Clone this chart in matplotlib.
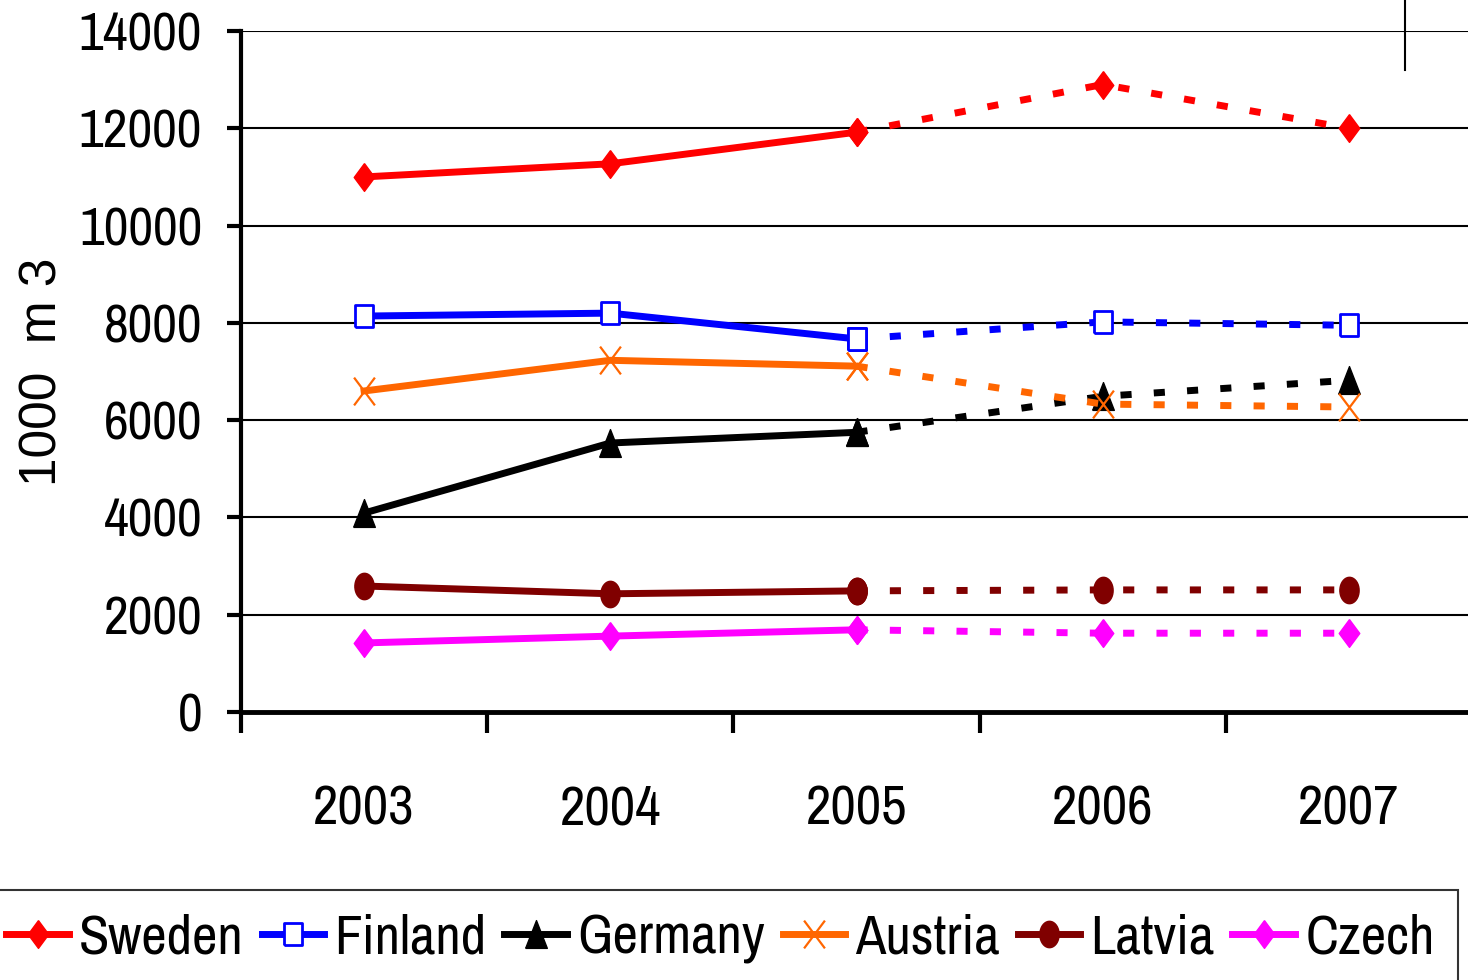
import numpy as np
import matplotlib
matplotlib.use("Agg")
import matplotlib.pyplot as plt
from matplotlib.path import Path
from matplotlib.lines import Line2D

years = ["2003", "2004", "2005", "2006", "2007"]
sweden = [11000, 11270, 11920, 12900, 12000]
finland = [8140, 8200, 7670, 8020, 7950]
germany = [4090, 5530, 5750, 6490, 6820]
austria = [6600, 7230, 7110, 6330, 6270]
latvia = [2590, 2430, 2490, 2510, 2510]
czech = [1420, 1560, 1690, 1620, 1620]

narrow = ['Archivo Narrow', 'DejaVu Sans']

# tall, narrow marker shapes like the original
diamond = [(0, 1), (0.74, 0), (0, -1), (-0.74, 0), (0, 1)]
rect = [(-0.75, -1), (0.75, -1), (0.75, 1), (-0.75, 1), (-0.75, -1)]
tri = [(-0.78, -1), (0.78, -1), (0, 1), (-0.78, -1)]
cross = Path([(-0.75, -1), (0.75, 1), (-0.75, 1), (0.75, -1)],
             [Path.MOVETO, Path.LINETO, Path.MOVETO, Path.LINETO])
t = np.linspace(0, 2 * np.pi, 40)
oval = list(zip(0.73 * np.cos(t), np.sin(t)))

series = [
    ("Sweden", sweden, "#FF0000", dict(marker=diamond, ms=20, mfc="#FF0000", mec="#FF0000", mew=1)),
    ("Finland", finland, "#0000FF", dict(marker=rect, ms=16.5, mfc="white", mec="#0000FF", mew=2)),
    ("Germany", germany, "black", dict(marker=tri, ms=20, mfc="black", mec="black", mew=1)),
    ("Austria", austria, "#FF6600", dict(marker=cross, ms=20, mfc="none", mec="#FF6600", mew=1.6)),
    ("Latvia", latvia, "#800000", dict(marker=oval, ms=19, mfc="#800000", mec="#800000", mew=1)),
    ("Czech", czech, "#FF00FF", dict(marker=diamond, ms=20, mfc="#FF00FF", mec="#FF00FF", mew=1)),
]

fig = plt.figure(figsize=(14.68, 9.8), dpi=100)
ax = fig.add_axes([241/1468, 1 - 712/980, 1231/1468, 681/980])

x = np.arange(len(years)) + 0.5
for name, vals, col, mk in series:
    ax.plot(x[2:], vals[2:], color=col, lw=5, ls=(0, (1.6, 3.2)),
            solid_capstyle="butt", dash_capstyle="butt", zorder=3, **mk)
    ax.plot(x[:3], vals[:3], color=col, lw=5, label=name, zorder=4, **mk)

ax.set_xlim(0, 5)
ax.set_ylim(0, 14000)
ax.set_yticks(np.arange(0, 14001, 2000))
ax.set_xticks(np.arange(0, 5))
ax.set_xticklabels([])
ax.set_xticks(x, minor=True)
ax.set_xticklabels(years, minor=True, family=narrow, fontsize=40)
ax.tick_params(axis="x", which="minor", length=0, pad=52)
ax.tick_params(axis="x", which="major", length=15, width=3, direction="out")
ax.tick_params(axis="y", length=10, width=3, direction="out", pad=18)
for lab in ax.get_yticklabels():
    lab.set_family(narrow)
    lab.set_fontsize(39)

ax.grid(axis="y", color="black", lw=1.5, zorder=1)
ax.spines["top"].set_visible(False)
ax.spines["right"].set_visible(False)
ax.spines["left"].set_linewidth(3)
ax.spines["bottom"].set_linewidth(3.5)
ax.set_axisbelow(True)
ax.set_ylabel("1000  m 3", fontsize=37, family="Liberation Sans", labelpad=8)

fig.add_artist(Line2D([1405/1468, 1405/1468], [1, 1 - 70/980], color="black", lw=1.5))

leg = fig.legend(loc="upper left", bbox_to_anchor=(-17/1468, 1 - 890/980), ncol=6,
                 prop={"family": narrow, "size": 40}, frameon=True, fancybox=False,
                 edgecolor="black", handlelength=1.13, handletextpad=0.18,
                 columnspacing=0.32, borderpad=0.42, borderaxespad=0, numpoints=1)
leg.get_frame().set_linewidth(1.5)

fig.savefig("out.png", dpi=100)
